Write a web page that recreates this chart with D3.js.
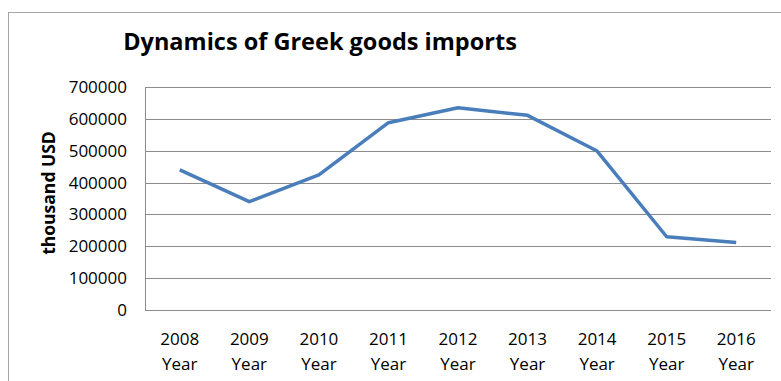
<!DOCTYPE html>
<html>
<head>
<meta charset="utf-8">
<script src="https://cdn.jsdelivr.net/npm/d3@7"></script>
<style>
  body { margin: 0; background: #fff; }
  text { font-family: "Open Sans", sans-serif; fill: #000; }
</style>
</head>
<body>
<div id="chart"></div>
<script>
const years = ["2008", "2009", "2010", "2011", "2012", "2013", "2014", "2015", "2016"];
const imports = [440000, 340000, 424000, 588000, 635000, 611000, 499000, 230000, 212000];
const yTicks = [0, 100000, 200000, 300000, 400000, 500000, 600000, 700000];

let W = 781, H = 381;
let margin = {top: 87, right: 10, bottom: 71, left: 145},
  width = W - margin.left - margin.right,
  height = H - margin.top - margin.bottom;

let root = d3.select("#chart")
  .append("svg")
  .attr("width", W)
  .attr("height", H);

// outer chart frame (runs off the right and bottom edge)
root.append("rect")
  .attr("x", 8.5).attr("y", 12.5)
  .attr("width", 820).attr("height", 420)
  .attr("fill", "none")
  .attr("stroke", "#a6a6a6")
  .attr("stroke-width", 1);

root.append("text")
  .attr("x", 320)
  .attr("y", 50)
  .attr("text-anchor", "middle")
  .style("font-size", "23.5px")
  .style("font-weight", "bold")
  .text("Dynamics of Greek goods imports");

let svg = root.append("g")
  .attr("transform", "translate(" + margin.left + "," + margin.top + ")");

let x = d3.scaleBand()
  .domain(years)
  .range([0, width]);

let y = d3.scaleLinear()
  .domain([0, 700000])
  .range([height, 0]);

// gridlines
svg.append("g")
  .selectAll("line")
  .data(yTicks)
  .join("line")
  .attr("x1", 0).attr("x2", width)
  .attr("y1", d => Math.round(y(d)) + 0.5)
  .attr("y2", d => Math.round(y(d)) + 0.5)
  .attr("stroke", "#8c8c8c")
  .attr("stroke-width", 1);

// left axis line
svg.append("line")
  .attr("x1", 0.5).attr("x2", 0.5)
  .attr("y1", Math.round(y(700000)) + 0.5)
  .attr("y2", Math.round(y(0)) + 0.5)
  .attr("stroke", "#8c8c8c");

// y labels
svg.append("g")
  .selectAll("text")
  .data(yTicks)
  .join("text")
  .attr("x", -18)
  .attr("y", d => y(d))
  .attr("dy", "0.35em")
  .attr("text-anchor", "end")
  .style("font-size", "17px")
  .text(d => d);

// x labels, two lines
let xl = svg.append("g")
  .selectAll("text")
  .data(years)
  .join("text")
  .attr("x", d => x(d) + x.bandwidth() / 2)
  .attr("y", height + 35)
  .attr("text-anchor", "middle")
  .style("font-size", "17px");
xl.append("tspan")
  .attr("x", d => x(d) + x.bandwidth() / 2)
  .text(d => d);
xl.append("tspan")
  .attr("x", d => x(d) + x.bandwidth() / 2)
  .attr("dy", 25)
  .text("Year");

// axis title
root.append("text")
  .attr("transform", "translate(55,193) rotate(-90)")
  .attr("text-anchor", "middle")
  .style("font-size", "17.5px")
  .style("font-weight", "bold")
  .text("thousand USD");

svg.append("path")
  .datum(imports)
  .attr("fill", "none")
  .attr("stroke", "#4a7ebb")
  .attr("stroke-width", 3.5)
  .attr("stroke-linejoin", "round")
  .attr("d", d3.line()
    .x((d, i) => x(years[i]) + x.bandwidth() / 2)
    .y(d => y(d))
  );
</script>
</body>
</html>
